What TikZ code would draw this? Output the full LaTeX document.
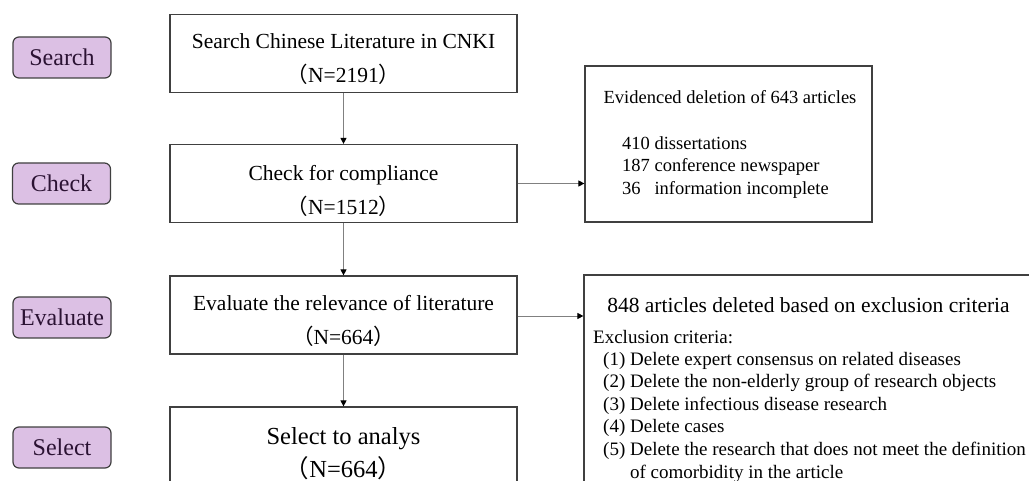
\documentclass[tikz,border=0pt]{standalone}
\usepackage{fontspec}
\setmainfont{Liberation Serif}
\newfontfamily\cjkfont{Noto Sans CJK SC}
\usepackage{xcolor}
\usetikzlibrary{arrows.meta,positioning,calc}
\definecolor{stagefill}{HTML}{DCC0E4}
\definecolor{stagetext}{HTML}{2B1233}
\definecolor{boxline}{HTML}{404040}
\newcommand{\lpar}{{\cjkfont （}}
\newcommand{\rpar}{{\cjkfont ）}}

\begin{document}
\begin{tikzpicture}[x=1pt, y=-1pt,
  stage/.style={draw=boxline, rounded corners=6pt, line width=1.2pt,
    fill=stagefill, minimum width=98pt, minimum height=41pt,
    text=stagetext, font=\fontsize{24}{28}\selectfont},
  mainbox/.style={draw=boxline, line width=1.2pt, fill=white,
    minimum width=347pt, minimum height=78pt},
  maintext/.style={align=center, inner sep=0pt,
    font=\fontsize{21.5}{34}\selectfont},
  sidebox/.style={draw=boxline, line width=1.2pt, fill=white},
  sidetext/.style={inner sep=0pt, font=\fontsize{18.5}{22.5}\selectfont},
  flow/.style={-{Triangle[length=6pt, width=6pt, color=black]},
    draw=black!50, line width=0.9pt}
]
\useasboundingbox (0,0) rectangle (1029,481);
\clip (0,0) rectangle (1029,481);

% stages on the left
\node[stage] (stsearch) at (62,57.5) {Search};
\node[stage] (stcheck) at (61.5,183.5) {Check};
\node[stage] (steval) at (62,317.5) {Evaluate};
\node[stage] (stselect) at (62,447.5) {Select};

% main column
\node[mainbox] (search) at (343.5,53.5) {};
\node[mainbox] (check) at (343.5,183.5) {};
\node[mainbox] (eval) at (343.5,315) {};
\node[mainbox] (select) at (343.5,446) {};

\node[maintext] (searchtxt) at ([yshift=-6pt]search.center)
  {Search Chinese Literature in CNKI\\\lpar N=2191\rpar};
\node[maintext] (checktxt) at ([yshift=-7pt]check.center)
  {Check for compliance\\\lpar N=1512\rpar};
\node[maintext] (evaltxt) at ([yshift=-6pt]eval.center)
  {Evaluate the relevance of literature\\\lpar N=664\rpar};
\node[maintext, font=\fontsize{24.5}{33}\selectfont] (selecttxt)
  at ([yshift=-7.5pt]select.center) {Select to analys\\\lpar N=664\rpar};

% deletions
\node[sidebox, minimum width=287pt, minimum height=156pt] (evid) at (728.5,144) {};
\node[sidetext] (evidtitle) at (730,97) {Evidenced deletion of 643 articles};
\node[sidetext, anchor=west] (evidlist) at (622,167.5)
  {\begin{tabular}{@{}l@{\ }l@{}}
    410 & dissertations\\
    187 & conference newspaper\\
    36  & information incomplete
  \end{tabular}};

\node[sidebox, minimum width=460pt, minimum height=220pt] (excl) at (814,385) {};
\node[sidetext, font=\fontsize{21.5}{25}\selectfont] (excltitle) at (808.5,305)
  {848 articles deleted based on exclusion criteria};
\node[sidetext, font=\fontsize{19}{22.6}\selectfont, anchor=west] (excllabel)
  at (593,337) {Exclusion criteria:};
\node[sidetext, font=\fontsize{19}{22.6}\selectfont, anchor=north west] (excllist)
  at (603,349) {\begin{tabular}{@{}l@{\ }l@{}}
    (1) & Delete expert consensus on related diseases\\
    (2) & Delete the non-elderly group of research objects\\
    (3) & Delete infectious disease research\\
    (4) & Delete cases\\
    (5) & Delete the research that does not meet the definition\\
        & of comorbidity in the article
  \end{tabular}};

\draw[flow] (search) -- (check);
\draw[flow] (check) -- (eval);
\draw[flow] (eval) -- (select);
\draw[flow] (check.east) -- (check.east -| evid.west);
\draw[flow] ([yshift=-1pt]eval.east) -- ([yshift=-1pt]eval.east -| excl.west);
\end{tikzpicture}
\end{document}
